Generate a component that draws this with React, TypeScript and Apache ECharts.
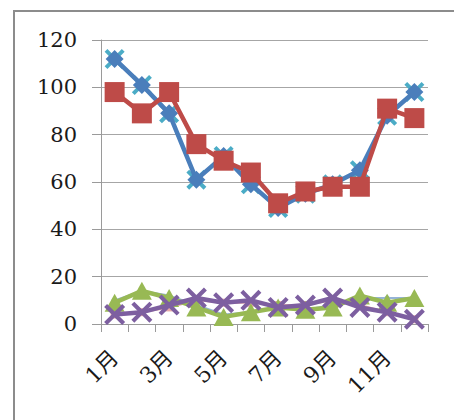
import React, { useEffect, useRef } from "react";
import * as echarts from "echarts";

const months = ["1月", "2月", "3月", "4月", "5月", "6月", "7月", "8月", "9月", "10月", "11月", "12月"];
const blueValues = [112, 101, 89, 61, 71, 59, 49, 55, 59, 65, 88, 98];
const redValues = [98, 89, 98, 76, 69, 64, 51, 56, 58, 58, 91, 87];
const greenValues = [9, 14, 11, 7, 3, 5, 7, 6, 7, 12, 9, 11];
const purpleValues = [4, 5, 8, 11, 9, 10, 7, 8, 11, 7, 5, 2];
const lightBlueValues = [10, 14, 12, 8, 4, 5, 7, 6, 8, 11, 11, 11];
const lightRedValues = [4, 5, 7, 10, 9, 9, 8, 8, 10, 8, 5, 2];
const yTicks = { min: 0, max: 120, interval: 20 };

const X_PATH =
  "path://M0,1.4 L1.4,0 L5,3.6 L8.6,0 L10,1.4 L6.4,5 L10,8.6 L8.6,10 L5,6.4 L1.4,10 L0,8.6 L3.6,5 Z";

export default function App() {
  const ref = useRef<HTMLDivElement>(null);
  useEffect(() => {
    if (!ref.current) return;
    const chart = echarts.init(ref.current, undefined, { renderer: "svg" });
    const font = "'DejaVu Serif', 'Noto Sans CJK JP', serif";
    const common = { type: "line", showAllSymbol: true, showSymbol: true };
    chart.setOption({
      animation: false,
      backgroundColor: "#ffffff",
      graphic: [
        {
          type: "rect",
          shape: { x: 14, y: 11, width: 470, height: 440 },
          style: { fill: "none", stroke: "#8c8c8c", lineWidth: 2 },
          z: 0,
        },
      ],
      grid: { left: 101, right: 26, top: 40, bottom: 96 },
      xAxis: {
        type: "category",
        data: months,
        boundaryGap: true,
        axisLine: { show: true, lineStyle: { color: "#9a9a9a", width: 1 } },
        axisTick: { show: true, length: 8, interval: 0, lineStyle: { color: "#9a9a9a" } },
        axisLabel: {
          interval: 1,
          rotate: 45,
          margin: 30,
          fontFamily: font,
          fontSize: 22,
          color: "#1a1a1a",
        },
      },
      yAxis: {
        type: "value",
        min: yTicks.min,
        max: yTicks.max,
        interval: yTicks.interval,
        axisLine: { show: true, lineStyle: { color: "#9a9a9a", width: 1 } },
        axisTick: { show: true, length: 9, lineStyle: { color: "#9a9a9a" } },
        splitLine: { show: true, lineStyle: { color: "#a6a6a6", width: 1 } },
        axisLabel: {
          margin: 24,
          fontFamily: font,
          fontSize: 21,
          color: "#1a1a1a",
        },
      },
      series: [
        {
          ...common,
          name: "lightBlue",
          data: lightBlueValues,
          z: 1,
          symbol: "diamond",
          symbolSize: 7,
          lineStyle: { color: "#95b3d7", width: 2 },
          itemStyle: { color: "#95b3d7" },
        },
        {
          ...common,
          name: "lightRed",
          data: lightRedValues,
          z: 1,
          symbol: "rect",
          symbolSize: 8,
          lineStyle: { color: "#e6a9a8", width: 2 },
          itemStyle: { color: "#e6a9a8" },
        },
        {
          ...common,
          name: "blueX",
          data: blueValues,
          z: 2,
          symbol: X_PATH,
          symbolSize: 20,
          lineStyle: { width: 0, opacity: 0 },
          itemStyle: { color: "#4bacc6" },
        },
        {
          ...common,
          name: "blue",
          data: blueValues,
          z: 3,
          symbol: "diamond",
          symbolSize: 18,
          lineStyle: { color: "#4a7ebb", width: 4.5 },
          itemStyle: { color: "#4a7ebb" },
        },
        {
          ...common,
          name: "red",
          data: redValues,
          z: 4,
          symbol: "rect",
          symbolSize: 20,
          lineStyle: { color: "#be4b48", width: 4.5 },
          itemStyle: { color: "#be4b48" },
        },
        {
          ...common,
          name: "green",
          data: greenValues,
          z: 5,
          symbol: "triangle",
          symbolSize: [20, 18],
          lineStyle: { color: "#98b954", width: 4.5 },
          itemStyle: { color: "#98b954" },
        },
        {
          ...common,
          name: "purple",
          data: purpleValues,
          z: 6,
          symbol: X_PATH,
          symbolSize: 21,
          lineStyle: { color: "#7d5fa0", width: 4.5 },
          itemStyle: { color: "#7d5fa0" },
        },
      ],
    });
    return () => chart.dispose();
  }, []);
  return (
    <div
      ref={ref}
      style={{ position: "fixed", left: 0, top: 0, width: 454, height: 420, background: "#fff" }}
    />
  );
}
